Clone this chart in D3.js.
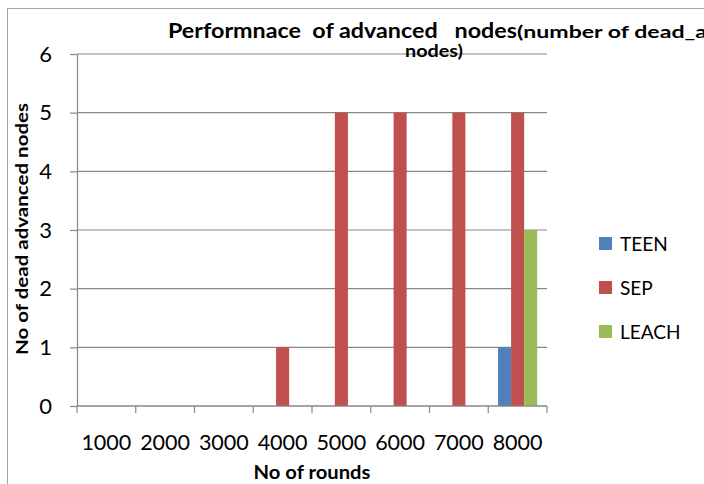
<!DOCTYPE html>
<html>
<head>
<meta charset="utf-8">
<script src="https://cdn.jsdelivr.net/npm/d3@7"></script>
<style>
  html, body { margin: 0; padding: 0; background: #fff; }
  svg { display: block; }
  text { font-family: Lato, "Open Sans", sans-serif; fill: #000; }
  .keep-spaces { white-space: pre; }
</style>
</head>
<body>
<svg id="chart" width="704" height="484"></svg>
<script>
// Rounds on the x axis
const categories = ["1000", "2000", "3000", "4000", "5000", "6000", "7000", "8000"];
// Series names and colours
const seriesNames = ["TEEN", "SEP", "LEACH"];
const seriesColors = ["#4F81BD", "#C0504D", "#9BBB59"];
// Dead advanced nodes per round for each protocol
const teenValues  = [0, 0, 0, 0, 0, 0, 0, 1];
const sepValues   = [0, 0, 0, 1, 5, 5, 5, 5];
const leachValues = [0, 0, 0, 0, 0, 0, 0, 3];
// Y tick values
const yTicks = [0, 1, 2, 3, 4, 5, 6];

const seriesValues = [teenValues, sepValues, leachValues];
const rows = categories.map((c, i) => ({
  category: c,
  values: seriesNames.map((s, k) => ({ series: s, value: seriesValues[k][i], color: seriesColors[k] }))
}));

const svg = d3.select("#chart");
const plot = { left: 77, right: 547, top: 54, bottom: 406 };
const gridColor = "#878787";

// Outer chart frame
svg.append("rect")
  .attr("x", 7.5).attr("y", 8.5)
  .attr("width", 800).attr("height", 600)
  .attr("fill", "none").attr("stroke", "#a6a6a6").attr("stroke-width", 1);

const x = d3.scaleBand().domain(categories).range([plot.left, plot.right]).padding(0);
const xs = d3.scaleBand().domain(seriesNames).range([0, x.bandwidth()])
  .paddingInner(0).paddingOuter(0.75);
const y = d3.scaleLinear().domain([0, 6]).range([plot.bottom, plot.top]);

// Horizontal gridlines
svg.append("g").selectAll("line").data(yTicks).join("line")
  .attr("x1", plot.left).attr("x2", plot.right)
  .attr("y1", d => y(d)).attr("y2", d => y(d))
  .attr("stroke", gridColor).attr("stroke-width", 1.2);

// Y axis
const yAxis = svg.append("g")
  .attr("transform", `translate(${plot.left},0)`)
  .call(d3.axisLeft(y).tickValues(yTicks).tickFormat(d3.format("d")).tickSize(7).tickSizeOuter(0).tickPadding(18));
yAxis.select(".domain").attr("stroke", gridColor).attr("stroke-width", 1.2);
yAxis.selectAll(".tick line").attr("stroke", gridColor).attr("stroke-width", 1.2);
yAxis.selectAll(".tick text").style("font-size", "22px").style("font-family", "Lato").attr("fill", "#000");

// Bars
const groups = svg.append("g").selectAll("g").data(rows).join("g")
  .attr("transform", d => `translate(${x(d.category)},0)`);
groups.selectAll("rect").data(d => d.values.filter(v => v.value > 0)).join("rect")
  .attr("x", v => xs(v.series))
  .attr("width", xs.bandwidth())
  .attr("y", v => y(v.value))
  .attr("height", v => y(0) - y(v.value))
  .attr("fill", v => v.color);

// X axis: labels centred in each category, ticks on the boundaries
const xAxis = svg.append("g")
  .attr("transform", `translate(0,${plot.bottom})`)
  .call(d3.axisBottom(x).tickSize(0).tickPadding(28));
xAxis.select(".domain").remove();
xAxis.selectAll(".tick text").style("font-size", "22px").style("font-family", "Lato").attr("fill", "#000")
  .attr("textLength", 50).attr("lengthAdjust", "spacingAndGlyphs");
svg.append("line")
  .attr("x1", plot.left).attr("x2", plot.right)
  .attr("y1", plot.bottom).attr("y2", plot.bottom)
  .attr("stroke", gridColor).attr("stroke-width", 1.2);
const bounds = categories.map(c => x(c)).concat([x.range()[1]]);
svg.append("g").selectAll("line").data(bounds).join("line")
  .attr("x1", d => d).attr("x2", d => d)
  .attr("y1", plot.bottom).attr("y2", plot.bottom + 7)
  .attr("stroke", gridColor).attr("stroke-width", 1.2);

// Axis titles
svg.append("text")
  .attr("x", (plot.left + plot.right) / 2).attr("y", 479)
  .attr("text-anchor", "middle")
  .attr("textLength", 117).attr("lengthAdjust", "spacingAndGlyphs")
  .style("font-size", "18px").style("font-weight", "bold")
  .text("No of rounds");

svg.append("text")
  .attr("transform", "translate(28,229) rotate(-90)")
  .attr("text-anchor", "middle")
  .attr("textLength", 252).attr("lengthAdjust", "spacingAndGlyphs")
  .style("font-size", "17px").style("font-weight", "bold")
  .text("No of dead advanced nodes");

// Chart title (two font sizes, wrapped onto a second line)
svg.append("text")
  .attr("class", "keep-spaces")
  .attr("x", 168).attr("y", 38)
  .attr("textLength", 349).attr("lengthAdjust", "spacingAndGlyphs")
  .style("font-size", "20px").style("font-weight", "bold")
  .text("Performnace  of advanced   nodes");
svg.append("text")
  .attr("x", 517).attr("y", 38)
  .attr("textLength", 190).attr("lengthAdjust", "spacingAndGlyphs")
  .style("font-size", "17px").style("font-weight", "bold")
  .text("(number of dead_a");
svg.append("text")
  .attr("x", 434).attr("y", 57)
  .attr("text-anchor", "middle")
  .attr("textLength", 58).attr("lengthAdjust", "spacingAndGlyphs")
  .style("font-size", "17px").style("font-weight", "bold")
  .text("nodes)");

// Legend
const legend = svg.append("g").attr("transform", "translate(599,0)")
  .selectAll("g").data(seriesNames).join("g")
  .attr("transform", (d, i) => `translate(0,${244 + i * 44})`);
legend.append("rect")
  .attr("x", 0).attr("y", -7).attr("width", 13).attr("height", 13)
  .attr("fill", (d, i) => seriesColors[i]);
legend.append("text")
  .attr("x", 21).attr("y", 0).attr("dy", "0.36em")
  .style("font-size", "19px")
  .text(d => d);
</script>
</body>
</html>
